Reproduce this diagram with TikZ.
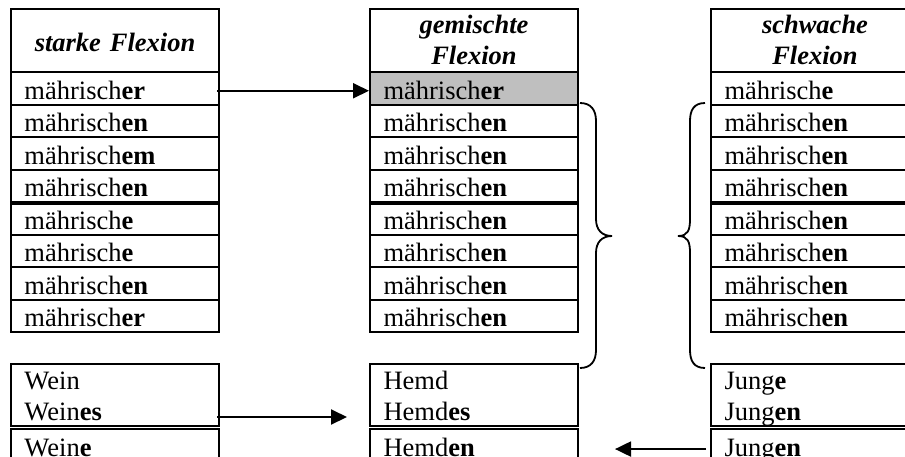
\documentclass[tikz,border=0pt]{standalone}
\usepackage{fontspec}
\setmainfont{Liberation Serif}
\usetikzlibrary{arrows.meta}

\newcommand\cellfont{\fontsize{13.25pt}{15.5pt}\selectfont}
\newcommand\headtext[1]{\textbf{\textit{#1}}}

\tikzset{
  cell/.style={draw, line width=1pt, anchor=north west,
    minimum width=104pt, minimum height=16.25pt,
    inner xsep=6.75pt, inner ysep=0pt, text width=90.5pt, align=left,
    text height=10.75pt, text depth=0pt, font=\cellfont},
  headcell/.style={cell, minimum height=31.5pt, align=center},
  twoline/.style={text depth=18.2pt},
  paircell/.style={cell, minimum height=31pt, text depth=16.6pt},
  hilite/.style={fill=black!25},
  arr/.style={-{Triangle[length=8pt,width=7.5pt]}, line width=1pt},
  brace/.style={line width=0.9pt},
}

\begin{document}
\begin{tikzpicture}[x=0.5pt, y=-0.5pt]
  \useasboundingbox (0,0) rectangle (905,456);
  \clip (0,0) rectangle (905,456);

  % headers
  \node[headcell] (sh) at (10,8) {\headtext{starke Flexion}};
  \node[headcell, twoline] (gh) at (369,8) {\headtext{gemischte}\\\headtext{Flexion}};
  \node[headcell, twoline] (wh) at (710,8) {\headtext{schwache}\\\headtext{Flexion}};

  % adjective rows
  \foreach \e [count=\i] in {er,en,em,en,e,e,en,er}
    \node[cell] (s\i) at (10,{71+(\i-1)*32.5}) {mährisch\textbf{\e}};
  \node[cell, hilite] (g1) at (369,71) {mährisch\textbf{er}};
  \node[cell] (w1) at (710,71) {mährisch\textbf{e}};
  \foreach \i in {2,...,8} {
    \node[cell] (g\i) at (369,{71+(\i-1)*32.5}) {mährisch\textbf{en}};
    \node[cell] (w\i) at (710,{71+(\i-1)*32.5}) {mährisch\textbf{en}};
  }

  % thick rule between singular and plural
  \foreach \t in {s,g,w}
    \draw[line width=1.5pt] (\t4.south west) -- (\t4.south east);

  % noun tables
  \node[paircell] (wein) at (10,363) {Wein\\Wein\textbf{es}};
  \node[paircell] (hemd) at (369,363) {Hemd\\Hemd\textbf{es}};
  \node[paircell] (junge) at (710,363) {Jung\textbf{e}\\Jung\textbf{en}};
  \node[cell] (weine) at (10,428.3) {Wein\textbf{e}};
  \node[cell] (hemden) at (369,428.3) {Hemd\textbf{en}};
  \node[cell] (jungen) at (710,428.3) {Jung\textbf{en}};

  % arrows
  \draw[arr] ([shift={(-1.5pt,-1.25pt)}]s1.east) -- ([yshift=-1.25pt]g1.west);
  \draw[arr] ([shift={(-1.5pt,-11pt)}]wein.east) -- ([shift={(-11pt,-11pt)}]hemd.west);
  \draw[arr] ([shift={(-2pt,-1.75pt)}]jungen.west) -- ([shift={(18pt,-1.75pt)}]hemden.east);

  % braces
  \draw[brace] (580,103) .. controls (591,103) and (596,110) .. (596,121)
    -- (596,219) .. controls (596,230) and (602,236) .. (612,236)
    .. controls (602,236) and (596,242) .. (596,253)
    -- (596,350) .. controls (596,361) and (591,368) .. (580,368);
  \draw[brace] (705,103) .. controls (694,103) and (690,110) .. (690,121)
    -- (690,219) .. controls (690,230) and (688,236) .. (678,236)
    .. controls (688,236) and (690,242) .. (690,253)
    -- (690,350) .. controls (690,361) and (694,368) .. (705,368);
\end{tikzpicture}
\end{document}
